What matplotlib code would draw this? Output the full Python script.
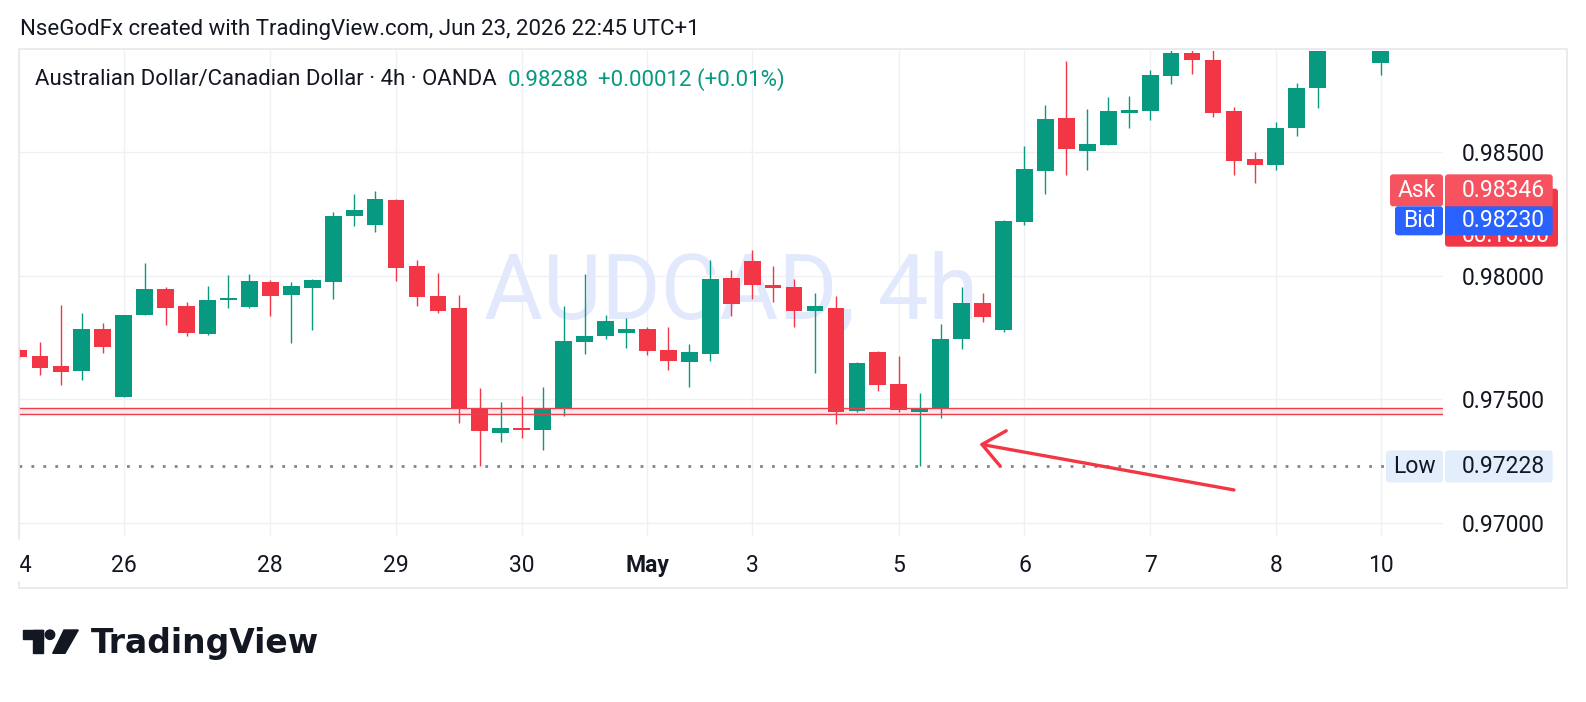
import numpy as np
import matplotlib.pyplot as plt
from matplotlib.patches import Rectangle, FancyBboxPatch, Circle, Polygon

plt.rcParams['font.family'] = ['Roboto', 'DejaVu Sans']

nan = np.nan

# AUDCAD 4h candles, left to right
# (NaN = candle is above the visible price range)
opens = [0.97700, 0.97675, 0.97635, 0.97616, 0.97785, 0.97511, 0.97841, 0.97947, 0.97878, 0.97764,
         0.97902, 0.97875, 0.97975, 0.97922, 0.97952, 0.97976, 0.98243, 0.98207, 0.98307, 0.98040,
         0.97918, 0.97870, 0.97464, 0.97365, 0.97380, 0.97377, 0.97461, 0.97733, 0.97757, 0.97770,
         0.97785, 0.97700, 0.97652, 0.97685, 0.97991, 0.98060, 0.97963, 0.97955, 0.97859, 0.97870,
         0.97453, 0.97691, 0.97562, 0.97450, 0.97460, 0.97744, 0.97890, 0.97782, 0.98219, 0.98426,
         0.98639, 0.98506, 0.98531, 0.98660, 0.98668, 0.98810, 0.98902, 0.98874, 0.98667, 0.98473,
         0.98450, 0.98598, 0.98762, nan, nan, 0.98863]
highs = [0.97708, 0.97731, 0.97882, 0.97848, 0.97808, 0.97843, 0.98052, 0.97953, 0.97893, 0.97959,
         0.98003, 0.98006, 0.97983, 0.97975, 0.97987, 0.98257, 0.98331, 0.98343, 0.98311, 0.98064,
         0.98011, 0.97922, 0.97545, 0.97489, 0.97513, 0.97550, 0.97878, 0.98007, 0.97841, 0.97828,
         0.97792, 0.97793, 0.97724, 0.98064, 0.98023, 0.98104, 0.98040, 0.97987, 0.97930, 0.97918,
         0.97651, 0.97696, 0.97675, 0.97527, 0.97804, 0.97955, 0.97929, 0.98225, 0.98526, 0.98692,
         0.98870, 0.98675, 0.98724, 0.98728, 0.98833, 0.98930, 0.98925, 0.98915, 0.98683, 0.98501,
         0.98623, 0.98781, 0.98985, nan, nan, 0.99010]
lows = [0.97663, 0.97600, 0.97559, 0.97579, 0.97689, 0.97509, 0.97841, 0.97801, 0.97757, 0.97762,
        0.97871, 0.97871, 0.97837, 0.97729, 0.97781, 0.97907, 0.98202, 0.98179, 0.97980, 0.97878,
        0.97851, 0.97405, 0.97232, 0.97328, 0.97345, 0.97296, 0.97434, 0.97685, 0.97744, 0.97709,
        0.97681, 0.97620, 0.97551, 0.97656, 0.97838, 0.97906, 0.97895, 0.97794, 0.97608, 0.97401,
        0.97449, 0.97535, 0.97449, 0.97228, 0.97426, 0.97705, 0.97814, 0.97774, 0.98206, 0.98331,
        0.98408, 0.98428, 0.98531, 0.98598, 0.98631, 0.98778, 0.98818, 0.98644, 0.98408, 0.98377,
        0.98430, 0.98567, 0.98681, nan, nan, 0.98814]
closes = [0.97672, 0.97628, 0.97612, 0.97785, 0.97713, 0.97841, 0.97947, 0.97871, 0.97770, 0.97902,
          0.97911, 0.97979, 0.97919, 0.97959, 0.97983, 0.98242, 0.98266, 0.98311, 0.98033, 0.97915,
          0.97859, 0.97464, 0.97373, 0.97384, 0.97376, 0.97461, 0.97736, 0.97756, 0.97817, 0.97786,
          0.97697, 0.97656, 0.97691, 0.97987, 0.97887, 0.97964, 0.97952, 0.97859, 0.97878, 0.97449,
          0.97647, 0.97559, 0.97457, 0.97466, 0.97744, 0.97890, 0.97832, 0.98222, 0.98432, 0.98635,
          0.98512, 0.98534, 0.98667, 0.98671, 0.98813, 0.98902, 0.98875, 0.98660, 0.98466, 0.98450,
          0.98598, 0.98760, 0.98960, nan, nan, 0.98990]

# date labels sit on the first candle of each day
day_pos = [0, 5, 12, 18, 24, 30, 35, 42, 48, 54, 60, 65]
day_labels = ['24', '26', '28', '29', '30', 'May', '3', '5', '6', '7', '8', '10']
price_ticks = [0.970, 0.975, 0.980, 0.985]

zone_top = 0.974628
zone_bottom = 0.974405
low_price = 0.97228
ask_price = 0.98346
bid_price = 0.98230
last_price = 0.98288
last_change = '+0.00012 (+0.01%)'
arrow_tail = (58.0, 0.97133)
arrow_tip = (45.85, 0.97319)

GREEN = '#089981'
RED = '#f23645'
TXT = '#131722'
FS = 16.5

W, H = 1586, 702
fig = plt.figure(figsize=(W / 100, H / 100), dpi=100)

# pane in pixels: x 19..1443, y 50.5..536
ax = fig.add_axes([19 / W, 1 - 536 / H, (1443 - 19) / W, (536 - 50.5) / H])
ax.set_xlim(0.171, 67.98)
ax.set_ylim(0.969466, 0.989121)
for s in ax.spines.values():
    s.set_visible(False)

ax.set_axisbelow(True)
ax.grid(True, color='#eff0f3', lw=1)

ax.text(0.5, 0.5, 'AUDCAD, 4h', transform=ax.transAxes, ha='center', va='center',
        fontsize=65, color='#e3e9fc', zorder=0.8)

o = np.array(opens)
h = np.array(highs)
l = np.array(lows)
c = np.array(closes)
idx = np.arange(len(o))
ok = ~np.isnan(o)
cols = np.array([GREEN if cc >= oo else RED for oo, cc in zip(o, c)])

ax.vlines(idx[ok], l[ok], h[ok], colors=cols[ok], lw=1.0, zorder=3)
body = np.maximum(np.abs(c - o), 0.00007)
ax.bar(idx[ok], body[ok], bottom=np.minimum(o, c)[ok], width=0.8, color=cols[ok],
       linewidth=0, zorder=4)

# support zone + low line
ax.axhspan(zone_bottom, zone_top, color='#fde6e8', lw=0, zorder=2)
ax.axhline(zone_top, color='#e8404f', lw=1.0, zorder=5)
ax.axhline(zone_bottom, color='#e8404f', lw=1.0, zorder=5)
ax.axhline(low_price, color='#808490', lw=2.0, dashes=(1, 3.3), zorder=2)

ax.annotate('', xy=arrow_tip, xytext=arrow_tail,
            arrowprops=dict(arrowstyle='->,head_length=0.77,head_width=0.64',
                            mutation_scale=20, lw=2.4, color=RED,
                            shrinkA=0, shrinkB=0, capstyle='round', joinstyle='round'),
            zorder=6)

ax.set_xticks(day_pos, day_labels)
ax.tick_params(axis='x', length=0, pad=13, labelsize=FS, labelcolor=TXT)
for t in ax.get_xticklabels():
    if t.get_text() == 'May':
        t.set_fontweight('bold')

ax.yaxis.tick_right()
ax.set_yticks(price_ticks, [f'{p:.5f}' for p in price_ticks])
ax.tick_params(axis='y', length=0, pad=13.5, labelsize=FS, labelcolor=TXT)

# overlay in pixel coordinates for the TradingView chrome
ov = fig.add_axes([0, 0, 1, 1], zorder=10)
ov.set_xlim(0, W)
ov.set_ylim(H, 0)
ov.axis('off')


def py(p):
    return H - ax.transData.transform((0, p))[1]


ov.add_patch(Rectangle((19, 48.5), 1567 - 19, 588 - 48.5, fill=False, ec='#e6e8ec', lw=1.2))

ov.text(20, 30, 'NseGodFx created with TradingView.com, Jun 23, 2026 22:45 UTC+1',
        fontsize=16, color=TXT, va='center')
ov.text(35, 80, 'Australian Dollar/Canadian Dollar · 4h · OANDA', fontsize=16, color=TXT, va='center')
ov.text(508, 80, f'{last_price:.5f}', fontsize=16, color=GREEN, va='center')
ov.text(598, 80, last_change, fontsize=16, color=GREEN, va='center')

# the first date label is cut off by the pane's left edge
ov.add_patch(Rectangle((0, 540), 18.6, 40, color='white', zorder=5))


def label(yc, hgt, left, face, name, value, txtc='white', zo=7):
    y0 = yc - hgt / 2
    ov.add_patch(FancyBboxPatch((left, y0), 1443 - left, hgt, boxstyle='round,pad=0,rounding_size=3',
                                fc=face, ec='none', zorder=zo))
    ov.add_patch(FancyBboxPatch((1445, y0), 1552.7 - 1445, hgt, boxstyle='round,pad=0,rounding_size=3',
                                fc=face, ec='none', zorder=zo))
    ov.text((left + 1443) / 2, yc, name, fontsize=FS, color=txtc, ha='center', va='center', zorder=zo + 0.5)
    ov.text(1462, yc, value, fontsize=FS, color=txtc, ha='left', va='center', zorder=zo + 0.5)


# last price tag, mostly hidden under ask / bid
yl = py(last_price)
tag = FancyBboxPatch((1445, yl - 16), 1558 - 1445, 58, boxstyle='round,pad=0,rounding_size=3',
                     fc=RED, ec='none', zorder=6)
ov.add_patch(tag)
ov.text(1462, yl + 31, '00:15:00', fontsize=FS, color='white', va='center', zorder=6.5,
        clip_on=True, clip_path=tag)

ya = py(ask_price)
yb = max(py(bid_price), ya + 30.5)
label(ya, 32, 1390, '#f7525f', 'Ask', f'{ask_price:.5f}')
label(yb, 29, 1395, '#2962ff', 'Bid', f'{bid_price:.5f}', zo=8)
label(py(low_price), 32, 1386, '#e3eefc', 'Low', f'{low_price:.5f}', txtc=TXT)

# TradingView logo
ov.add_patch(Rectangle((22.7, 630), 20.6, 9.3, color=TXT))
ov.add_patch(Rectangle((33.3, 630), 10, 23.3, color=TXT))
ov.add_patch(Circle((50, 634.7), 4.7, color=TXT))
ov.add_patch(Polygon([(64, 630), (78.3, 630), (65, 653.3), (52.7, 653.3)], closed=True, color=TXT))
ov.text(91, 653.3, 'TradingView', family='DejaVu Sans', fontweight='bold', fontsize=23.8,
        color=TXT, va='baseline')

fig.savefig('out.png', dpi=100)
